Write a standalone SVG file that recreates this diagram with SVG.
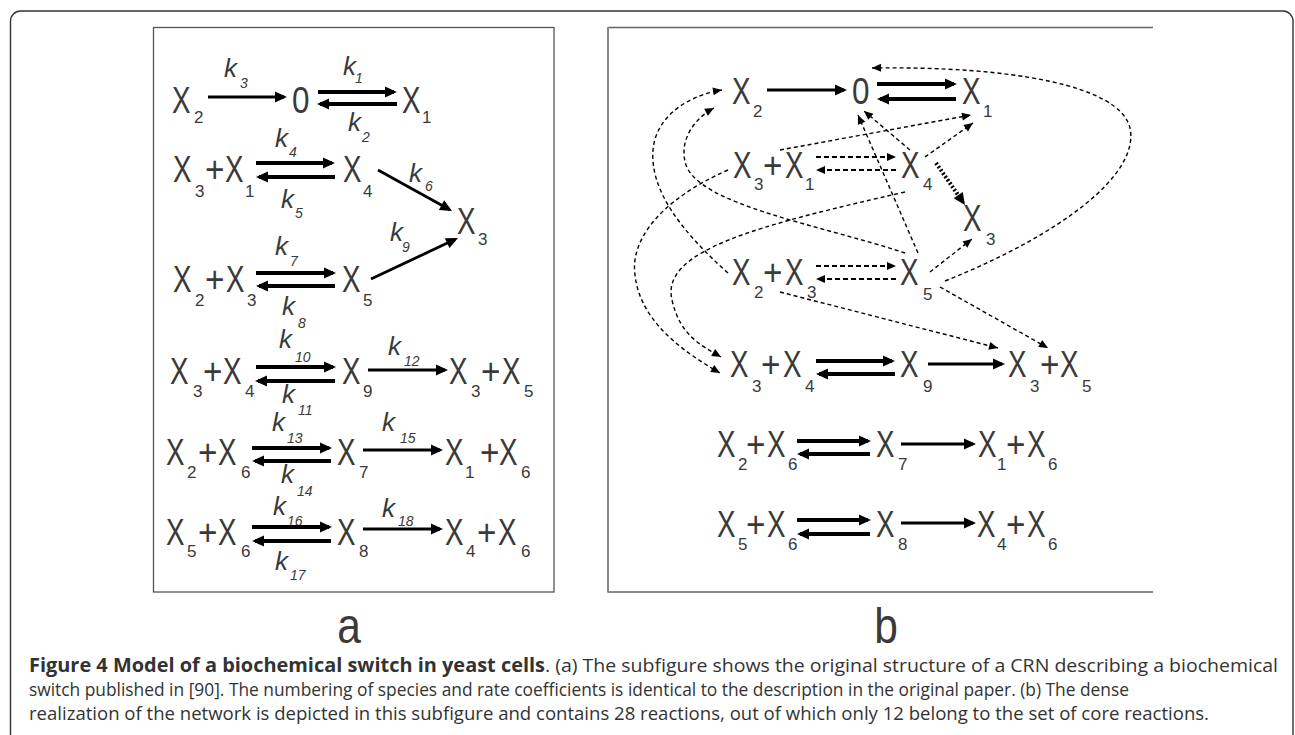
<svg xmlns="http://www.w3.org/2000/svg" width="1295" height="735" viewBox="0 0 1295 735">
<style>
.m{font-family:"Liberation Sans",Arial,sans-serif;font-size:37px;fill:#3a3a3a}
.s{font-family:"Liberation Sans",Arial,sans-serif;font-size:17px;fill:#3a3a3a}
.k{font-family:"Liberation Sans",Arial,sans-serif;font-size:26px;font-style:italic;fill:#3a3a3a}
.ks{font-family:"Liberation Sans",Arial,sans-serif;font-size:14px;font-style:italic;fill:#3a3a3a}
.lab{font-family:"Liberation Sans",Arial,sans-serif;font-size:50px;fill:#3a3a3a}
.cap{font-family:"Open Sans","Liberation Sans",sans-serif;font-size:19px;fill:#333}
.capb{font-family:"Open Sans","Liberation Sans",sans-serif;font-size:19px;font-weight:bold;fill:#333}
.sa{stroke:#000;stroke-width:2.8;fill:none;marker-end:url(#ah)}
.da{stroke:#000;stroke-width:3.8;fill:none;marker-end:url(#ah)}
.dd{stroke:#000;stroke-width:2;stroke-dasharray:5 3;fill:none;marker-end:url(#dh)}
.tc{stroke:#000;stroke-width:1.4;stroke-dasharray:4 3;fill:none;marker-end:url(#dh)}
.td{stroke:#000;stroke-width:4;stroke-dasharray:2 2;fill:none;marker-end:url(#ah)}
</style>
<defs>
<marker id="ah" markerUnits="userSpaceOnUse" markerWidth="13" markerHeight="12" refX="9" refY="5.5" orient="auto" overflow="visible"><path d="M0,0 L12,5.5 L0,11 z" fill="#000"/></marker>
<marker id="dh" markerUnits="userSpaceOnUse" markerWidth="10" markerHeight="9" refX="9" refY="4" orient="auto" overflow="visible"><path d="M0,0 L9,4 L0,8 z" fill="#000"/></marker>
</defs>
<rect width="1295" height="735" fill="#fff"/>
<path d="M10.5,740 V21 A10,10 0 0 1 20.5,11 H1283 A10,10 0 0 1 1293,21 V740" fill="none" stroke="#333" stroke-width="1.4"/>
<rect x="153.5" y="27.5" width="400.5" height="564.5" fill="none" stroke="#555" stroke-width="1.3"/>
<path d="M608,27.5 H1153 M608,592 H1153" fill="none" stroke="#666" stroke-width="1.3"/>
<path d="M608,27 V592.5" fill="none" stroke="#888" stroke-width="2"/>

<g id="panel-a-nodes">
<g id="a-r1-X2"><text class="m" transform="matrix(.75 0 0 1 172 113)">X</text><text class="s" x="194" y="123">2</text></g>
<g id="a-r1-0"><text class="m" transform="matrix(.85 0 0 1 292 113)">0</text></g>
<g id="a-r1-X1"><text class="m" transform="matrix(.75 0 0 1 402 113)">X</text><text class="s" x="422" y="123">1</text></g>
<g id="a-r2-X3X1"><text class="m" transform="matrix(.75 0 0 1 173 182)">X</text><text class="s" x="195" y="197">3</text><text class="m" transform="matrix(.9 0 0 1 205 182)">+</text><text class="m" transform="matrix(.75 0 0 1 225 182)">X</text><text class="s" x="245" y="197">1</text></g>
<g id="a-r2-X4"><text class="m" transform="matrix(.75 0 0 1 343 182)">X</text><text class="s" x="363" y="197">4</text></g>
<g id="a-X3"><text class="m" transform="matrix(.75 0 0 1 457 234)">X</text><text class="s" x="478" y="245">3</text></g>
<g id="a-r3-X2X3"><text class="m" transform="matrix(.75 0 0 1 173 292)">X</text><text class="s" x="195" y="306">2</text><text class="m" transform="matrix(.9 0 0 1 205 292)">+</text><text class="m" transform="matrix(.75 0 0 1 226 292)">X</text><text class="s" x="247" y="306">3</text></g>
<g id="a-r3-X5"><text class="m" transform="matrix(.75 0 0 1 342 292)">X</text><text class="s" x="363" y="306">5</text></g>
<g id="a-r4-X3X4"><text class="m" transform="matrix(.75 0 0 1 170 384)">X</text><text class="s" x="193" y="397">3</text><text class="m" transform="matrix(.9 0 0 1 203 384)">+</text><text class="m" transform="matrix(.75 0 0 1 223 384)">X</text><text class="s" x="245" y="397">4</text></g>
<g id="a-r4-X9"><text class="m" transform="matrix(.75 0 0 1 342 384)">X</text><text class="s" x="363" y="397">9</text></g>
<g id="a-r4-X3X5"><text class="m" transform="matrix(.75 0 0 1 449 384)">X</text><text class="s" x="471" y="397">3</text><text class="m" transform="matrix(.9 0 0 1 481 384)">+</text><text class="m" transform="matrix(.75 0 0 1 502 384)">X</text><text class="s" x="524" y="397">5</text></g>
<g id="a-r5-X2X6"><text class="m" transform="matrix(.75 0 0 1 166 465)">X</text><text class="s" x="187" y="478">2</text><text class="m" transform="matrix(.9 0 0 1 198 465)">+</text><text class="m" transform="matrix(.75 0 0 1 218 465)">X</text><text class="s" x="241" y="478">6</text></g>
<g id="a-r5-X7"><text class="m" transform="matrix(.75 0 0 1 337 465)">X</text><text class="s" x="359" y="478">7</text></g>
<g id="a-r5-X1X6"><text class="m" transform="matrix(.75 0 0 1 445 465)">X</text><text class="s" x="465" y="478">1</text><text class="m" transform="matrix(.9 0 0 1 480 465)">+</text><text class="m" transform="matrix(.75 0 0 1 499 465)">X</text><text class="s" x="521" y="478">6</text></g>
<g id="a-r6-X5X6"><text class="m" transform="matrix(.75 0 0 1 166 545)">X</text><text class="s" x="187" y="557">5</text><text class="m" transform="matrix(.9 0 0 1 198 545)">+</text><text class="m" transform="matrix(.75 0 0 1 218 545)">X</text><text class="s" x="241" y="557">6</text></g>
<g id="a-r6-X8"><text class="m" transform="matrix(.75 0 0 1 337 545)">X</text><text class="s" x="359" y="557">8</text></g>
<g id="a-r6-X4X6"><text class="m" transform="matrix(.75 0 0 1 445 545)">X</text><text class="s" x="466" y="557">4</text><text class="m" transform="matrix(.9 0 0 1 477 545)">+</text><text class="m" transform="matrix(.75 0 0 1 498 545)">X</text><text class="s" x="521" y="557">6</text></g>
</g>

<g id="panel-a-rates">
<text class="k" x="224" y="77">k</text><text class="ks" x="240" y="88">3</text>
<text class="k" x="343" y="75">k</text><text class="ks" x="355" y="83">1</text>
<text class="k" x="348" y="131">k</text><text class="ks" x="362" y="142">2</text>
<text class="k" x="275" y="147">k</text><text class="ks" x="289" y="157">4</text>
<text class="k" x="281" y="208">k</text><text class="ks" x="295" y="218">5</text>
<text class="k" x="409" y="182">k</text><text class="ks" x="425" y="191">6</text>
<text class="k" x="275" y="255">k</text><text class="ks" x="290" y="266">7</text>
<text class="k" x="282" y="315">k</text><text class="ks" x="298" y="328">8</text>
<text class="k" x="390" y="241">k</text><text class="ks" x="402" y="252">9</text>
<text class="k" x="279" y="348">k</text><text class="ks" x="295" y="362">10</text>
<text class="k" x="388" y="355">k</text><text class="ks" x="404" y="366">12</text>
<text class="k" x="282" y="403">k</text><text class="ks" x="298" y="415">11</text>
<text class="k" x="272" y="431">k</text><text class="ks" x="287" y="443">13</text>
<text class="k" x="382" y="431">k</text><text class="ks" x="400" y="443">15</text>
<text class="k" x="281" y="483">k</text><text class="ks" x="297" y="496">14</text>
<text class="k" x="273" y="515">k</text><text class="ks" x="287" y="526">16</text>
<text class="k" x="382" y="517">k</text><text class="ks" x="398" y="526">18</text>
<text class="k" x="275" y="570">k</text><text class="ks" x="290" y="580">17</text>
</g>

<g id="panel-b-nodes">
<g id="b-r1-X2"><text class="m" transform="matrix(.75 0 0 1 732 104)">X</text><text class="s" x="753" y="117">2</text></g>
<g id="b-r1-0"><text class="m" transform="matrix(.85 0 0 1 852 104)">0</text></g>
<g id="b-r1-X1"><text class="m" transform="matrix(.75 0 0 1 962 104)">X</text><text class="s" x="983" y="117">1</text></g>
<g id="b-r2-X3X1"><text class="m" transform="matrix(.75 0 0 1 733 178)">X</text><text class="s" x="754" y="190">3</text><text class="m" transform="matrix(.9 0 0 1 763 178)">+</text><text class="m" transform="matrix(.75 0 0 1 785 178)">X</text><text class="s" x="805" y="190">1</text></g>
<g id="b-r2-X4"><text class="m" transform="matrix(.75 0 0 1 901 178)">X</text><text class="s" x="923" y="190">4</text></g>
<g id="b-X3"><text class="m" transform="matrix(.75 0 0 1 963 231)">X</text><text class="s" x="986" y="245">3</text></g>
<g id="b-r3-X2X3"><text class="m" transform="matrix(.75 0 0 1 732 285)">X</text><text class="s" x="754" y="298">2</text><text class="m" transform="matrix(.9 0 0 1 763 285)">+</text><text class="m" transform="matrix(.75 0 0 1 785 285)">X</text><text class="s" x="807" y="298">3</text></g>
<g id="b-r3-X5"><text class="m" transform="matrix(.75 0 0 1 900 285)">X</text><text class="s" x="923" y="300">5</text></g>
<g id="b-r4-X3X4"><text class="m" transform="matrix(.75 0 0 1 730 377)">X</text><text class="s" x="752" y="392">3</text><text class="m" transform="matrix(.9 0 0 1 761 377)">+</text><text class="m" transform="matrix(.75 0 0 1 783 377)">X</text><text class="s" x="805" y="392">4</text></g>
<g id="b-r4-X9"><text class="m" transform="matrix(.75 0 0 1 900 377)">X</text><text class="s" x="923" y="392">9</text></g>
<g id="b-r4-X3X5"><text class="m" transform="matrix(.75 0 0 1 1008 377)">X</text><text class="s" x="1030" y="392">3</text><text class="m" transform="matrix(.9 0 0 1 1040 377)">+</text><text class="m" transform="matrix(.75 0 0 1 1060 377)">X</text><text class="s" x="1082" y="392">5</text></g>
<g id="b-r5-X2X6"><text class="m" transform="matrix(.75 0 0 1 717 457)">X</text><text class="s" x="738" y="470">2</text><text class="m" transform="matrix(.9 0 0 1 746 457)">+</text><text class="m" transform="matrix(.75 0 0 1 767 457)">X</text><text class="s" x="788" y="470">6</text></g>
<g id="b-r5-X7"><text class="m" transform="matrix(.75 0 0 1 876 457)">X</text><text class="s" x="898" y="470">7</text></g>
<g id="b-r5-X1X6"><text class="m" transform="matrix(.75 0 0 1 978 457)">X</text><text class="s" x="997" y="470">1</text><text class="m" transform="matrix(.9 0 0 1 1006 457)">+</text><text class="m" transform="matrix(.75 0 0 1 1027 457)">X</text><text class="s" x="1048" y="470">6</text></g>
<g id="b-r6-X5X6"><text class="m" transform="matrix(.75 0 0 1 717 537)">X</text><text class="s" x="738" y="550">5</text><text class="m" transform="matrix(.9 0 0 1 746 537)">+</text><text class="m" transform="matrix(.75 0 0 1 767 537)">X</text><text class="s" x="788" y="550">6</text></g>
<g id="b-r6-X8"><text class="m" transform="matrix(.75 0 0 1 876 537)">X</text><text class="s" x="898" y="550">8</text></g>
<g id="b-r6-X4X6"><text class="m" transform="matrix(.75 0 0 1 977 537)">X</text><text class="s" x="997" y="550">4</text><text class="m" transform="matrix(.9 0 0 1 1006 537)">+</text><text class="m" transform="matrix(.75 0 0 1 1027 537)">X</text><text class="s" x="1048" y="550">6</text></g>
</g>

<g id="connectors">
<line class="sa" x1="208" y1="97" x2="284" y2="97"/>
<line class="sa" x1="378" y1="170" x2="449.4" y2="209.5"/>
<line class="sa" x1="371" y1="279" x2="455.3" y2="239.3"/>
<line class="sa" x1="368" y1="370" x2="445" y2="370"/>
<line class="sa" x1="363" y1="450" x2="440" y2="450"/>
<line class="sa" x1="363" y1="529" x2="440" y2="529"/>
<line class="da" x1="318" y1="92" x2="394" y2="92"/><line class="da" x1="397" y1="104" x2="320" y2="104"/>
<line class="da" x1="256" y1="163" x2="332" y2="163"/><line class="da" x1="335" y1="177" x2="259" y2="177"/>
<line class="da" x1="256" y1="273" x2="333" y2="273"/><line class="da" x1="335" y1="286" x2="259" y2="286"/>
<line class="da" x1="256" y1="367" x2="333" y2="367"/><line class="da" x1="335" y1="381" x2="258" y2="381"/>
<line class="da" x1="252" y1="448" x2="329" y2="448"/><line class="da" x1="331" y1="461" x2="255" y2="461"/>
<line class="da" x1="252" y1="527" x2="329" y2="527"/><line class="da" x1="331" y1="541" x2="255" y2="541"/>

<line class="sa" x1="767" y1="90" x2="844" y2="90"/>
<line class="sa" x1="928" y1="364" x2="1002" y2="364"/>
<line class="sa" x1="901" y1="444" x2="973" y2="444"/>
<line class="sa" x1="901" y1="523" x2="973" y2="523"/>
<line class="da" x1="877" y1="84" x2="954" y2="84"/><line class="da" x1="956" y1="99" x2="880" y2="99"/>
<line class="da" x1="816" y1="361" x2="892" y2="361"/><line class="da" x1="895" y1="374" x2="819" y2="374"/>
<line class="da" x1="797" y1="441" x2="868" y2="441"/><line class="da" x1="870" y1="454" x2="800" y2="454"/>
<line class="da" x1="797" y1="520" x2="868" y2="520"/><line class="da" x1="870" y1="534" x2="800" y2="534"/>
<line class="dd" x1="816" y1="157" x2="896" y2="157"/><line class="dd" x1="896" y1="170" x2="816" y2="170"/>
<line class="dd" x1="816" y1="266" x2="896" y2="266"/><line class="dd" x1="896" y1="279" x2="816" y2="279"/>
<line class="td" x1="936" y1="163" x2="963.3" y2="202.5"/>

<path class="tc" d="M728,170 C660,200 630,240 635,275 C640,320 680,350 720,373"/>
<path class="tc" d="M905,192 C760,225 660,250 672,300 C680,335 700,345 721,357"/>
<path class="tc" d="M728,273 C680,230 650,190 653,150 C656,115 690,95 722,90"/>
<path class="tc" d="M905,253 C820,225 700,205 686,165 C678,140 695,118 714,108"/>
<path class="tc" d="M918,253 L858,115"/>
<path class="tc" d="M910,150 L864,111"/>
<path class="tc" d="M780,150 L971,115"/>
<path class="tc" d="M925,157 L973,123"/>
<path class="tc" d="M930,272 L972,239"/>
<path class="tc" d="M945,281 C1060,235 1140,175 1130,128 C1120,85 1010,66 872,68"/>
<path class="tc" d="M780,292 L998,348"/>
<path class="tc" d="M940,287 L1048,348"/>
</g>

<g id="labels">
<text class="lab" text-anchor="middle" transform="matrix(.85 0 0 1 349 643)">a</text>
<text class="lab" text-anchor="middle" transform="matrix(.85 0 0 1 886 643)">b</text>
</g>

<g id="caption">
<text class="capb" x="29" y="672" textLength="516" lengthAdjust="spacingAndGlyphs">Figure 4 Model of a biochemical switch in yeast cells</text>
<text class="cap" x="545" y="672" textLength="733" lengthAdjust="spacingAndGlyphs">. (a) The subfigure shows the original structure of a CRN describing a biochemical</text>
<text class="cap" x="29" y="696" textLength="1100" lengthAdjust="spacingAndGlyphs">switch published in [90]. The numbering of species and rate coefficients is identical to the description in the original paper. (b) The dense</text>
<text class="cap" x="29" y="720" textLength="1180" lengthAdjust="spacingAndGlyphs">realization of the network is depicted in this subfigure and contains 28 reactions, out of which only 12 belong to the set of core reactions.</text>
</g>
</svg>
